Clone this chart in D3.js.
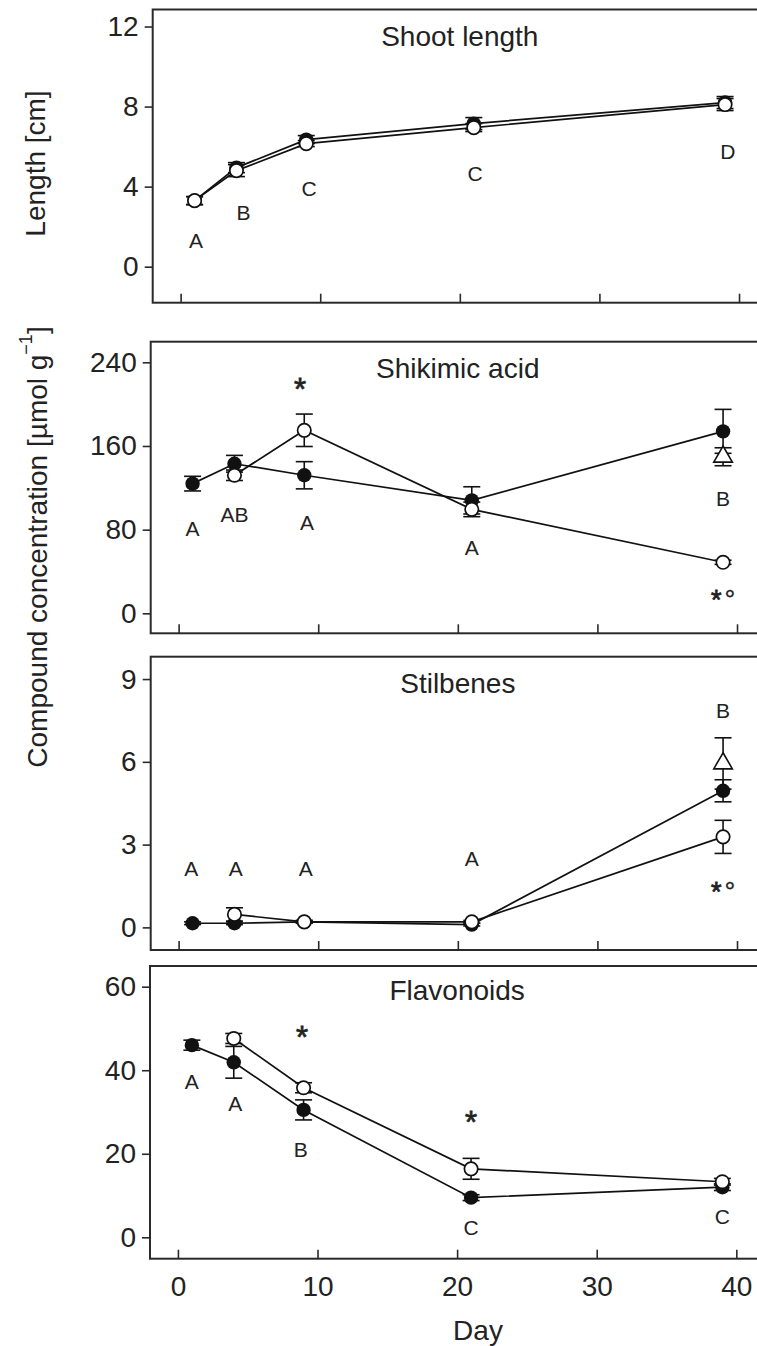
<!DOCTYPE html>
<html>
<head>
<meta charset="utf-8">
<script src="https://cdnjs.cloudflare.com/ajax/libs/d3/7.8.5/d3.min.js"></script>
<style>
body { margin: 0; background: #fff; }
svg text { font-family: "Liberation Sans", Arial, sans-serif; fill: #222; }
</style>
</head>
<body>
<svg id="chart" width="757" height="1346"></svg>
<script>
// sampling days
var days = [1, 4, 9, 21, 39];
var openDays = [4, 9, 21, 39];
var lastDay = [39];
var dayTicks = [0, 10, 20, 30, 40];

// shoot length [cm]
var lengthFilled = [3.3, 4.95, 6.35, 7.15, 8.2];
var lengthFilledErr = [0.2, 0.25, 0.2, 0.3, 0.3];
var lengthOpen = [3.3, 4.8, 6.15, 6.95, 8.1];
var lengthOpenErr = [0.2, 0.3, 0.15, 0.2, 0.3];
var lengthTicks = [0, 4, 8, 12];

// shikimic acid [umol/g]
var shikimicFilled = [124, 143, 132, 108, 174];
var shikimicFilledErr = [7, 8, 13, 13, 21];
var shikimicOpen = [132, 175, 99.4, 48.8];
var shikimicOpenErr = [5, 15.5, 7, 2];
var shikimicTriangle = [149.7];
var shikimicTriangleErr = [8.6];
var shikimicTicks = [0, 80, 160, 240];

// stilbenes [umol/g]
var stilbeneFilled = [0.15, 0.15, 0.2, 0.1, 4.95];
var stilbeneFilledErr = [0.05, 0.05, 0.05, 0.05, 0.4];
var stilbeneOpen = [0.47, 0.2, 0.2, 3.28];
var stilbeneOpenErr = [0.24, 0.05, 0.05, 0.6];
var stilbeneTriangle = [5.94];
var stilbeneTriangleErr = [0.93];
var stilbeneTicks = [0, 3, 6, 9];

// flavonoids [umol/g]
var flavFilled = [46, 41.9, 30.5, 9.5, 12.0];
var flavFilledErr = [1.2, 3.8, 2.4, 0.7, 0.8];
var flavOpen = [47.6, 35.8, 16.4, 13.3];
var flavOpenErr = [1.2, 1.2, 2.5, 0.8];
var flavTicks = [0, 20, 40, 60];

// letters of the post-hoc tests (day, value where the label sits)
var lengthLetters = ['A', 'B', 'C', 'C', 'D'];
var lengthLetterDays = [1.1, 4.5, 9.2, 21.1, 39.2];
var lengthLetterVals = [1.3, 2.73, 3.89, 4.67, 5.75];

var shikimicLetters = ['A', 'AB', 'A', 'A', 'B'];
var shikimicLetterDays = [1, 4, 9.2, 21, 39];
var shikimicLetterVals = [81.3, 94.7, 87, 63.1, 109.9];
var shikimicStars = ['*', '*°'];
var shikimicStarDays = [8.7, 39];
var shikimicStarVals = [221.5, 19.1];

var stilbeneLetters = ['A', 'A', 'A', 'A', 'B'];
var stilbeneLetterDays = [0.9, 4.1, 9.1, 21, 39];
var stilbeneLetterVals = [2.14, 2.14, 2.14, 2.5, 7.85];
var stilbeneStars = ['*°'];
var stilbeneStarDays = [39];
var stilbeneStarVals = [1.53];

var flavLetters = ['A', 'A', 'B', 'C', 'C'];
var flavLetterDays = [1, 4.1, 8.8, 21, 39];
var flavLetterVals = [37.25, 32.1, 21.1, 2.3, 4.9];
var flavStars = ['*', '*'];
var flavStarDays = [8.9, 21];
var flavStarVals = [49.6, 29.2];

var svg = d3.select('#chart');
var dayWidth = 13.96;
var bigFont = 28;

var panels = [
    {
        title: 'Shoot length', titleY: 46, left: 152.7, top: 9.5, bottom: 302.7,
        yDomain: [-1.8, 12.85], yTicks: lengthTicks,
        series: [
            {days: days, vals: lengthFilled, errs: lengthFilledErr, shape: 'filled'},
            {days: days, vals: lengthOpen, errs: lengthOpenErr, shape: 'open'}
        ],
        letters: [lengthLetters, lengthLetterDays, lengthLetterVals],
        stars: null
    },
    {
        title: 'Shikimic acid', titleY: 378, left: 150.7, top: 341.7, bottom: 633.3,
        yDomain: [-19.1, 259.7], yTicks: shikimicTicks,
        series: [
            {days: days, vals: shikimicFilled, errs: shikimicFilledErr, shape: 'filled'},
            {days: lastDay, vals: shikimicTriangle, errs: shikimicTriangleErr, shape: 'triangle'},
            {days: openDays, vals: shikimicOpen, errs: shikimicOpenErr, shape: 'open'}
        ],
        letters: [shikimicLetters, shikimicLetterDays, shikimicLetterVals],
        stars: [shikimicStars, shikimicStarDays, shikimicStarVals]
    },
    {
        title: 'Stilbenes', titleY: 693, left: 150.7, top: 656.7, bottom: 950,
        yDomain: [-0.82, 9.81], yTicks: stilbeneTicks,
        series: [
            {days: days, vals: stilbeneFilled, errs: stilbeneFilledErr, shape: 'filled'},
            {days: lastDay, vals: stilbeneTriangle, errs: stilbeneTriangleErr, shape: 'triangle'},
            {days: openDays, vals: stilbeneOpen, errs: stilbeneOpenErr, shape: 'open'}
        ],
        letters: [stilbeneLetters, stilbeneLetterDays, stilbeneLetterVals],
        stars: [stilbeneStars, stilbeneStarDays, stilbeneStarVals]
    },
    {
        title: 'Flavonoids', titleY: 1000, left: 150, top: 966, bottom: 1258.7,
        yDomain: [-5.12, 64.95], yTicks: flavTicks,
        series: [
            {days: days, vals: flavFilled, errs: flavFilledErr, shape: 'filled'},
            {days: openDays, vals: flavOpen, errs: flavOpenErr, shape: 'open'}
        ],
        letters: [flavLetters, flavLetterDays, flavLetterVals],
        stars: [flavStars, flavStarDays, flavStarVals]
    }
];

function drawPanel(p, isLast) {
    var x = d3.scaleLinear().domain([-2, 42]).range([p.left, p.left + 44 * dayWidth]);
    var y = d3.scaleLinear().domain(p.yDomain).range([p.bottom, p.top]);
    var g = svg.append('g');

    // frame
    g.append('rect')
        .attr('x', p.left).attr('y', p.top)
        .attr('width', 44 * dayWidth).attr('height', p.bottom - p.top)
        .attr('fill', 'none').attr('stroke', '#2a2a2a').attr('stroke-width', 2);

    // y axis (ticks outward)
    var yAxis = g.append('g')
        .attr('transform', 'translate(' + p.left + ',0)')
        .call(d3.axisLeft(y).tickValues(p.yTicks).tickSize(8).tickPadding(6));
    yAxis.select('.domain').remove();
    yAxis.selectAll('line').attr('stroke', '#2a2a2a').attr('stroke-width', 1.6);
    yAxis.selectAll('text').attr('font-size', bigFont).attr('fill', '#222')
        .attr('font-family', '"Liberation Sans", Arial, sans-serif');

    // x axis (ticks inward)
    var xAxis = g.append('g')
        .attr('transform', 'translate(0,' + p.bottom + ')')
        .call(d3.axisBottom(x).tickValues(dayTicks).tickSize(-9).tickPadding(17));
    xAxis.select('.domain').remove();
    xAxis.selectAll('line').attr('stroke', '#2a2a2a').attr('stroke-width', 1.6);
    if (isLast) {
        xAxis.selectAll('text').attr('font-size', bigFont).attr('fill', '#222')
            .attr('font-family', '"Liberation Sans", Arial, sans-serif');
    } else {
        xAxis.selectAll('text').remove();
    }

    // title
    g.append('text')
        .attr('x', (x(-2) + x(42)) / 2).attr('y', p.titleY)
        .attr('text-anchor', 'middle').attr('font-size', bigFont)
        .text(p.title);

    var line = d3.line()
        .x(function(d) { return x(d[0]); })
        .y(function(d) { return y(d[1]); });

    // connecting lines
    p.series.forEach(function(s) {
        if (s.shape == 'triangle') return;
        var pts = s.days.map(function(d, i) { return [d, s.vals[i]]; });
        g.append('path').datum(pts)
            .attr('d', line)
            .attr('fill', 'none').attr('stroke', '#111').attr('stroke-width', 1.7);
    });

    // error bars
    p.series.forEach(function(s) {
        s.days.forEach(function(d, i) {
            var cx = x(d), y1 = y(s.vals[i] - s.errs[i]), y2 = y(s.vals[i] + s.errs[i]);
            g.append('line').attr('x1', cx).attr('x2', cx).attr('y1', y1).attr('y2', y2)
                .attr('stroke', '#111').attr('stroke-width', 1.6);
            [y1, y2].forEach(function(yy) {
                g.append('line').attr('x1', cx - 8.5).attr('x2', cx + 8.5)
                    .attr('y1', yy).attr('y2', yy)
                    .attr('stroke', '#111').attr('stroke-width', 1.6);
            });
        });
    });

    // markers
    p.series.forEach(function(s) {
        s.days.forEach(function(d, i) {
            if (s.shape == 'filled') {
                g.append('circle').attr('cx', x(d)).attr('cy', y(s.vals[i])).attr('r', 7.2)
                    .attr('fill', '#111');
            } else if (s.shape == 'open') {
                g.append('circle').attr('cx', x(d)).attr('cy', y(s.vals[i])).attr('r', 6.7)
                    .attr('fill', '#fff').attr('stroke', '#111').attr('stroke-width', 1.7);
            } else {
                g.append('path')
                    .attr('d', d3.symbol(d3.symbolTriangle).size(150))
                    .attr('transform', 'translate(' + x(d) + ',' + y(s.vals[i]) + ')')
                    .attr('fill', '#fff').attr('stroke', '#111').attr('stroke-width', 1.6);
            }
        });
    });

    // letters
    var L = p.letters;
    L[0].forEach(function(t, i) {
        g.append('text')
            .attr('x', x(L[1][i])).attr('y', y(L[2][i]) + 0.36 * 21)
            .attr('text-anchor', 'middle').attr('font-size', 21)
            .text(t);
    });

    // significance marks
    if (p.stars) {
        var S = p.stars;
        S[0].forEach(function(t, i) {
            var fs = t.length > 1 ? 27 : 31;
            var st = g.append('text')
                .attr('x', x(S[1][i])).attr('y', y(S[2][i]) + 0.58 * fs)
                .attr('text-anchor', 'middle').attr('font-size', fs)
                .attr('stroke', '#222').attr('stroke-width', 0.8);
            st.append('tspan').text('*');
            if (t.length > 1) {
                st.append('tspan').attr('dx', 3).attr('stroke-width', 0.3).text(t.slice(1));
            }
        });
    }
}

panels.forEach(function(p, i) {
    drawPanel(p, i == panels.length - 1);
});

// axis titles
svg.append('text')
    .attr('transform', 'translate(35,163.5) rotate(-90)')
    .attr('text-anchor', 'middle').attr('dominant-baseline', 'central')
    .attr('font-size', bigFont)
    .text('Length [cm]');

var yLab = svg.append('text')
    .attr('transform', 'translate(37,547) rotate(-90)')
    .attr('text-anchor', 'middle').attr('dominant-baseline', 'central')
    .attr('font-size', bigFont);
yLab.append('tspan').text('Compound concentration [µmol g');
yLab.append('tspan').attr('font-size', 18).attr('dy', -11).text('−1');
yLab.append('tspan').attr('dy', 11).text(']');

svg.append('text')
    .attr('x', 478).attr('y', 1340)
    .attr('text-anchor', 'middle').attr('font-size', bigFont)
    .text('Day');
</script>
</body>
</html>
